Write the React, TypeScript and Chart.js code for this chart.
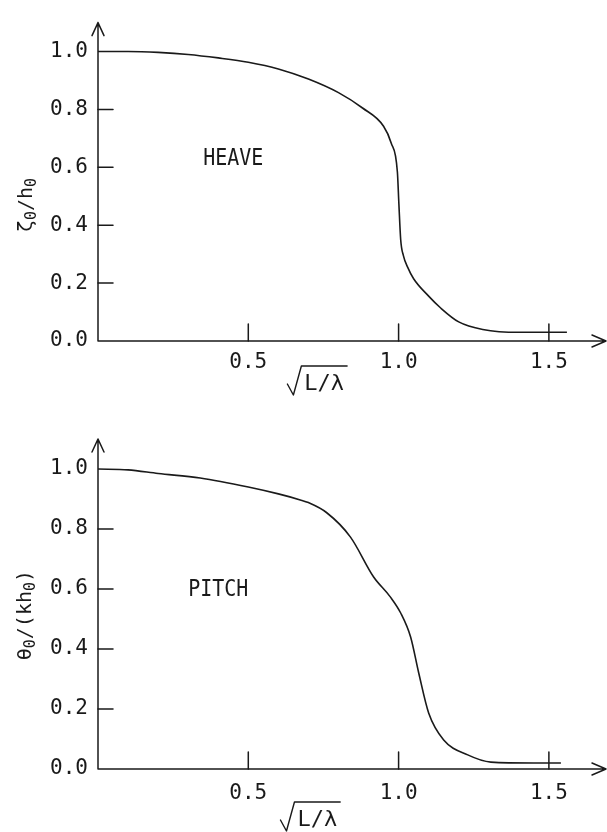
import React, { useEffect, useRef } from "react";
import { Chart, registerables } from "chart.js";

Chart.register(...registerables);

// ---- data ----
const HEAVE_X = [0, 0.1, 0.2, 0.3, 0.4, 0.5, 0.6, 0.7, 0.8, 0.88, 0.95, 0.975, 0.996, 1.001, 1.007, 1.016, 1.03, 1.05, 1.1, 1.14, 1.2, 1.28, 1.4, 1.56];
const HEAVE_Y = [1.0, 1.0, 0.997, 0.99, 0.978, 0.963, 0.94, 0.905, 0.858, 0.805, 0.742, 0.685, 0.584, 0.473, 0.35, 0.295, 0.255, 0.215, 0.155, 0.114, 0.066, 0.04, 0.03, 0.03];

const PITCH_X = [0, 0.1, 0.2, 0.34, 0.5, 0.6, 0.673, 0.7, 0.76, 0.84, 0.917, 0.973, 1.007, 1.04, 1.067, 1.1, 1.15, 1.23, 1.307, 1.45, 1.54];
const PITCH_Y = [1.0, 0.997, 0.985, 0.97, 0.94, 0.917, 0.897, 0.888, 0.855, 0.773, 0.64, 0.573, 0.52, 0.44, 0.32, 0.187, 0.097, 0.047, 0.023, 0.02, 0.02];

const X_TICKS = [0.5, 1.0, 1.5];
const X_TICK_LABELS = ["0.5", "1.0", "1.5"];
const Y_TICKS = [0, 0.2, 0.4, 0.6, 0.8, 1.0];
const Y_TICK_LABELS = ["0.0", "0.2", "0.4", "0.6", "0.8", "1.0"];
const Y_INNER_TICKS = [0.2, 0.4, 0.6, 0.8];

const HEAVE_LABEL = "HEAVE";
const PITCH_LABEL = "PITCH";
const HEAVE_TITLE = [
  { t: "ζ", sub: false },
  { t: "0", sub: true },
  { t: "/h", sub: false },
  { t: "0", sub: true },
];
const PITCH_TITLE = [
  { t: "θ", sub: false },
  { t: "0", sub: true },
  { t: "/(kh", sub: false },
  { t: "0", sub: true },
  { t: ")", sub: false },
];
const X_TITLE = "L/λ";

const FONT = '"DejaVu Sans Mono", "Liberation Mono", monospace';
const INK = "#1a1a1a";

const decorPlugin = {
  id: "decor",
  afterDraw(chart: any, _args: any, opts: any) {
    const { ctx, chartArea: a, scales } = chart;
    const xs = scales.x;
    const ys = scales.y;
    const x0 = xs.getPixelForValue(0);
    const y0 = ys.getPixelForValue(0);
    ctx.save();
    ctx.strokeStyle = INK;
    ctx.fillStyle = INK;
    ctx.lineWidth = 1.5;
    ctx.lineCap = "round";
    ctx.lineJoin = "round";

    // axes with open arrowheads
    ctx.beginPath();
    ctx.moveTo(x0, y0);
    ctx.lineTo(x0, a.top);
    ctx.moveTo(x0, y0);
    ctx.lineTo(a.right, y0);
    ctx.moveTo(x0 - 6, a.top + 13);
    ctx.lineTo(x0, a.top);
    ctx.lineTo(x0 + 6, a.top + 13);
    ctx.moveTo(a.right - 14, y0 - 6);
    ctx.lineTo(a.right, y0);
    ctx.lineTo(a.right - 14, y0 + 6);
    ctx.stroke();

    // inward tick marks
    ctx.beginPath();
    for (const v of Y_INNER_TICKS) {
      const py = ys.getPixelForValue(v);
      ctx.moveTo(x0, py);
      ctx.lineTo(x0 + 15, py);
    }
    for (const v of X_TICKS) {
      const px = xs.getPixelForValue(v);
      ctx.moveTo(px, y0);
      ctx.lineTo(px, y0 - 17);
    }
    ctx.stroke();

    // annotation (slightly tall lettering, as in the original)
    ctx.save();
    ctx.translate(xs.getPixelForValue(opts.labelX), ys.getPixelForValue(opts.labelY));
    ctx.scale(1, 1.18);
    ctx.font = `20px ${FONT}`;
    ctx.textAlign = "center";
    ctx.textBaseline = "middle";
    ctx.fillText(opts.label, 0, 0);
    ctx.restore();

    // rotated y title with subscripts
    const mainFont = `20px ${FONT}`;
    const subFont = `15px ${FONT}`;
    let total = 0;
    for (const p of opts.yTitle) {
      ctx.font = p.sub ? subFont : mainFont;
      total += ctx.measureText(p.t).width;
    }
    ctx.save();
    ctx.translate(opts.yTitleX, ys.getPixelForValue(opts.yTitleY));
    ctx.rotate(-Math.PI / 2);
    ctx.textAlign = "left";
    ctx.textBaseline = "alphabetic";
    let cx = -total / 2;
    for (const p of opts.yTitle) {
      ctx.font = p.sub ? subFont : mainFont;
      ctx.fillText(p.t, cx, p.sub ? 10 : 6);
      cx += ctx.measureText(p.t).width;
    }
    ctx.restore();

    // x title: radical over L/λ
    const rx = xs.getPixelForValue(opts.xTitleX);
    const ry = y0 + opts.xTitleDy;
    ctx.font = `22px ${FONT}`;
    const tw = ctx.measureText(X_TITLE).width;
    ctx.lineWidth = 1.4;
    ctx.beginPath();
    ctx.moveTo(rx, ry + 18);
    ctx.lineTo(rx + 6, ry + 29);
    ctx.lineTo(rx + 14, ry);
    ctx.lineTo(rx + 18 + tw + 2, ry);
    ctx.stroke();
    ctx.textAlign = "left";
    ctx.textBaseline = "alphabetic";
    ctx.fillText(X_TITLE, rx + 17, ry + 24);

    ctx.restore();
  },
};

type PanelProps = {
  xs: number[];
  ys: number[];
  padTop: number;
  xAxisHeight: number;
  tickPad: number;
  decor: any;
};

function Panel({ xs, ys, padTop, xAxisHeight, tickPad, decor }: PanelProps) {
  const ref = useRef<HTMLCanvasElement | null>(null);
  useEffect(() => {
    if (!ref.current) return;
    const chart = new Chart(ref.current, {
      type: "line",
      data: {
        datasets: [
          {
            data: xs.map((x, i) => ({ x, y: ys[i] })),
            borderColor: INK,
            borderWidth: 1.6,
            pointRadius: 0,
            fill: false,
            cubicInterpolationMode: "monotone",
          },
        ],
      },
      options: {
        responsive: false,
        animation: false,
        layout: { padding: { top: padTop, right: 1, left: 0, bottom: 0 } },
        plugins: {
          legend: { display: false },
          tooltip: { enabled: false },
          decor,
        } as any,
        scales: {
          x: {
            type: "linear",
            min: 0,
            max: 1.69,
            grid: { display: false, drawTicks: false },
            border: { display: false },
            ticks: {
              font: { family: FONT, size: 21 },
              color: INK,
              padding: tickPad,
              maxRotation: 0,
              autoSkip: false,
              callback: (_v: any, i: number) => X_TICK_LABELS[i],
            },
            afterBuildTicks: (s: any) => {
              s.ticks = X_TICKS.map((v) => ({ value: v }));
            },
            afterFit: (s: any) => {
              s.height = xAxisHeight;
            },
          },
          y: {
            type: "linear",
            min: 0,
            max: 1.1,
            grid: { display: false, drawTicks: false },
            border: { display: false },
            ticks: {
              font: { family: FONT, size: 21 },
              color: INK,
              padding: 10,
              autoSkip: false,
              callback: (_v: any, i: number) => Y_TICK_LABELS[i],
            },
            afterBuildTicks: (s: any) => {
              s.ticks = Y_TICKS.map((v) => ({ value: v }));
            },
            afterFit: (s: any) => {
              s.width = 98;
            },
          },
        },
      } as any,
      plugins: [decorPlugin],
    });
    return () => chart.destroy();
  }, []);
  return <canvas ref={ref} width={607} height={416} style={{ display: "block" }} />;
}

export default function App() {
  return (
    <div style={{ position: "absolute", left: 0, top: 0, width: 607, height: 832, background: "#fff" }}>
      <Panel
        xs={HEAVE_X}
        ys={HEAVE_Y}
        padTop={13}
        xAxisHeight={75}
        tickPad={9}
        decor={{ label: HEAVE_LABEL, labelX: 0.45, labelY: 0.63, yTitle: HEAVE_TITLE, yTitleX: 26, yTitleY: 0.47, xTitleX: 0.63, xTitleDy: 25 }}
      />
      <Panel
        xs={PITCH_X}
        ys={PITCH_Y}
        padTop={23}
        xAxisHeight={63}
        tickPad={12}
        decor={{ label: PITCH_LABEL, labelX: 0.4, labelY: 0.597, yTitle: PITCH_TITLE, yTitleX: 25, yTitleY: 0.513, xTitleX: 0.607, xTitleDy: 33 }}
      />
    </div>
  );
}
